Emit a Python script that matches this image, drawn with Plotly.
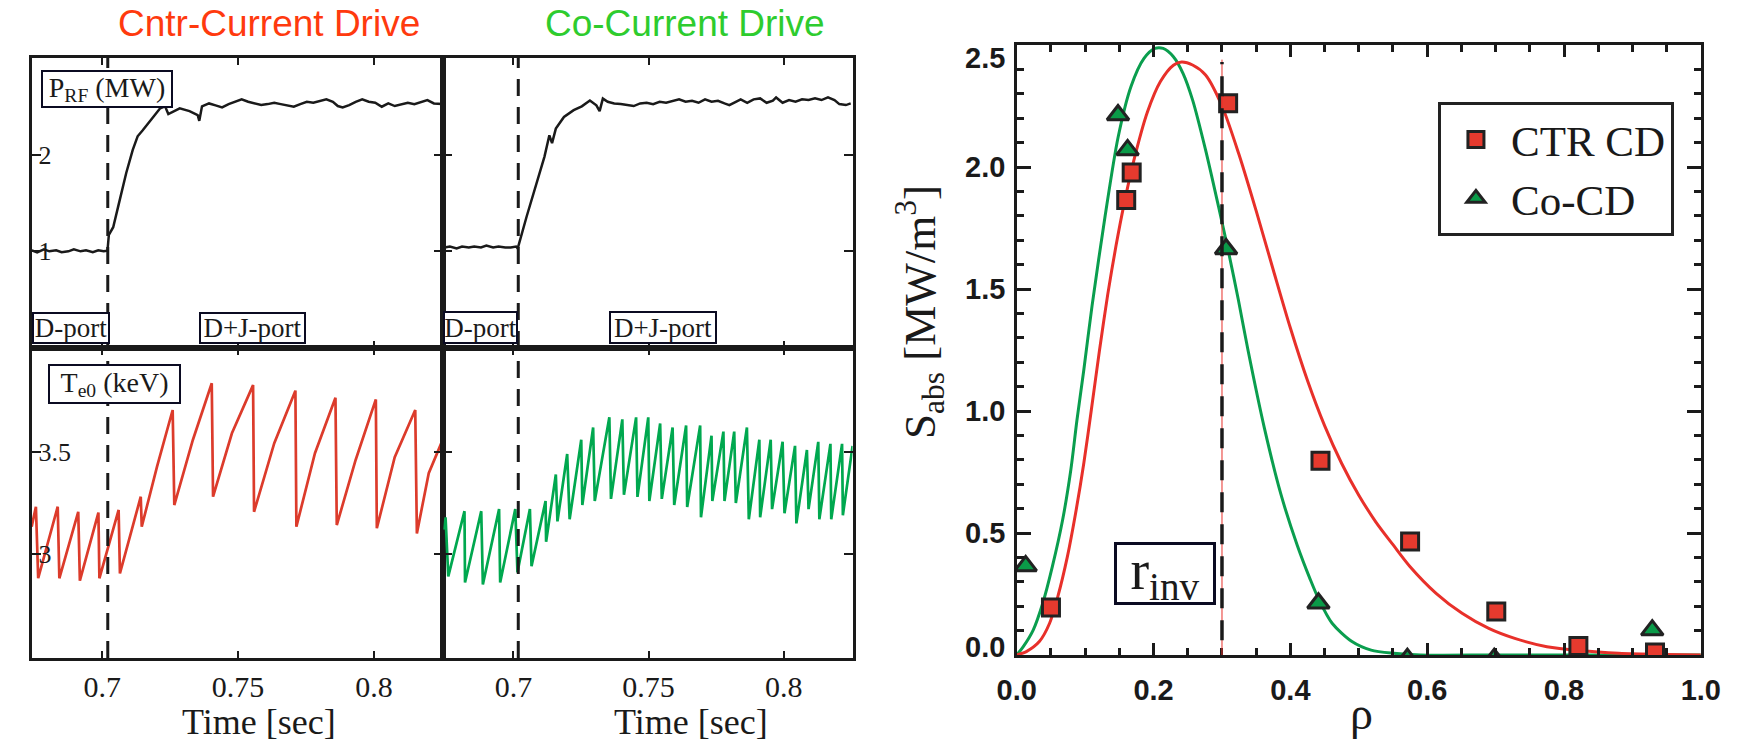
import plotly.graph_objects as go

# ======================= DATA =======================
# --- P_RF (MW) traces ---
prf_ctr_t = [0.6740, 0.6760, 0.6785, 0.6805, 0.6830, 0.6850, 0.6875, 0.6895, 0.6920, 0.6940, 0.6965, 0.6985, 0.7005,
             0.7019, 0.7024, 0.7040, 0.7058, 0.7088, 0.7112, 0.7130, 0.7148, 0.7184, 0.7213, 0.7231, 0.7243, 0.7285,
             0.7321, 0.7351, 0.7357, 0.7367,
             0.7393, 0.7417, 0.7441, 0.7465, 0.7489, 0.7513, 0.7537, 0.7561, 0.7585, 0.7609, 0.7633, 0.7657, 0.7681,
             0.7705, 0.7729, 0.7753, 0.7777, 0.7801, 0.7825, 0.7849, 0.7867, 0.7885, 0.7909, 0.7933, 0.7957, 0.7981,
             0.8005, 0.8029, 0.8053, 0.8077, 0.8101, 0.8125, 0.8149, 0.8173, 0.8197, 0.8221, 0.8251]
prf_ctr_mw = [1.01, 0.99, 1.02, 1.00, 1.01, 0.99, 1.00, 1.02, 1.00, 1.01, 0.99, 1.01, 1.00,
              1.006, 1.17, 1.25, 1.46, 1.81, 2.05, 2.19, 2.25, 2.38, 2.48, 2.50, 2.42, 2.48,
              2.45, 2.41, 2.35, 2.50,
              2.530, 2.510, 2.489, 2.523, 2.547, 2.572, 2.547, 2.530, 2.513, 2.523, 2.537, 2.523, 2.513,
              2.496, 2.523, 2.547, 2.537, 2.558, 2.572, 2.547, 2.503, 2.489, 2.513, 2.547, 2.572, 2.547,
              2.537, 2.496, 2.530, 2.503, 2.523, 2.537, 2.523, 2.547, 2.565, 2.530, 2.523]

prf_co_t = [0.6745, 0.6765, 0.6790, 0.6810, 0.6835, 0.6855, 0.6880, 0.6900, 0.6925, 0.6945, 0.6970, 0.6990, 0.7010,
            0.7016, 0.7049, 0.7085, 0.7115, 0.7133, 0.7143, 0.7157, 0.7187, 0.7223, 0.7253, 0.7283, 0.7307, 0.7319,
            0.7331,
            0.7349, 0.7373, 0.7397, 0.7421, 0.7445, 0.7469, 0.7493, 0.7517, 0.7541, 0.7565, 0.7589, 0.7613, 0.7637,
            0.7661, 0.7685, 0.7709, 0.7733, 0.7757, 0.7781, 0.7799, 0.7823, 0.7841, 0.7865, 0.7889, 0.7913, 0.7937,
            0.7960, 0.7972, 0.7996, 0.8020, 0.8044, 0.8068, 0.8092, 0.8116, 0.8140, 0.8164, 0.8188, 0.8206, 0.8230,
            0.8248]
prf_co_mw = [1.04, 1.05, 1.03, 1.05, 1.04, 1.05, 1.04, 1.06, 1.04, 1.05, 1.04, 1.04, 1.05,
             1.03, 1.36, 1.70, 1.98, 2.20, 2.12, 2.27, 2.39, 2.46, 2.50, 2.56, 2.51, 2.45,
             2.58,
             2.547, 2.530, 2.523, 2.513, 2.503, 2.530, 2.537, 2.523, 2.547, 2.537, 2.558, 2.572, 2.547,
             2.558, 2.537, 2.572, 2.547, 2.558, 2.530, 2.513, 2.547, 2.572, 2.537, 2.572, 2.582, 2.537,
             2.558, 2.592, 2.537, 2.565, 2.547, 2.572, 2.565, 2.582, 2.565, 2.592, 2.565, 2.523, 2.513,
             2.530]

# --- central electron temperature Te0 (keV) ---
te_ctr_t = [0.67398, 0.67554, 0.67638, 0.68357, 0.68417, 0.69113, 0.69173, 0.69856, 0.69892, 0.70600, 0.70648,
            0.71415, 0.71451, 0.72014, 0.72590, 0.72650, 0.73333, 0.74029, 0.74077, 0.74772, 0.75551, 0.75587,
            0.76331, 0.77110, 0.77146, 0.77830, 0.78585, 0.78633, 0.79328, 0.80072, 0.80108, 0.80767, 0.81523,
            0.81583, 0.82020, 0.82506]
te_ctr_kev = [3.134, 3.232, 2.881, 3.232, 2.881, 3.207, 2.869, 3.203, 2.881, 3.216, 2.905,
              3.281, 3.134, 3.428, 3.706, 3.240, 3.559, 3.837, 3.281, 3.592, 3.828, 3.207,
              3.543, 3.801, 3.134, 3.494, 3.766, 3.142, 3.461, 3.758, 3.126, 3.475, 3.706,
              3.101, 3.396, 3.551]

te_co_t = [0.6745, 0.6749, 0.6759, 0.6819, 0.6821, 0.6881, 0.6887, 0.6947, 0.6951, 0.7007, 0.7015, 0.7061, 0.7067,
           0.7119, 0.7121, 0.7157, 0.7163, 0.7199, 0.7208, 0.7251, 0.7255, 0.7295, 0.7301, 0.7355, 0.7361, 0.7403,
           0.7409, 0.7454, 0.7459, 0.7499, 0.7503, 0.7543, 0.7549, 0.7589, 0.7595, 0.7639, 0.7643, 0.7691, 0.7694,
           0.7733, 0.7736, 0.7777, 0.7781, 0.7817, 0.7823, 0.7864, 0.7871, 0.7910, 0.7913, 0.7952, 0.7957, 0.7996,
           0.8003, 0.8042, 0.8047, 0.8086, 0.8092, 0.8128, 0.8132, 0.8173, 0.8176, 0.8216, 0.8219, 0.8255]
te_co_kev = [3.12, 3.18, 2.89, 3.21, 2.86, 3.21, 2.85, 3.22, 2.86, 3.22, 2.91, 3.22, 2.94,
             3.26, 3.06, 3.39, 3.16, 3.49, 3.17, 3.56, 3.24, 3.62, 3.26, 3.67, 3.27, 3.66,
             3.29, 3.67, 3.28, 3.67, 3.26, 3.64, 3.27, 3.62, 3.24, 3.63, 3.23, 3.63, 3.18,
             3.58, 3.26, 3.60, 3.26, 3.60, 3.25, 3.62, 3.17, 3.56, 3.18, 3.56, 3.22, 3.55,
             3.20, 3.53, 3.15, 3.51, 3.22, 3.55, 3.17, 3.54, 3.17, 3.54, 3.19, 3.53]

rf_step_time_ctr = 0.7020
rf_step_time_co = 0.7018

time_ticks = [0.70, 0.75, 0.80]
time_tick_labels = ["0.7", "0.75", "0.8"]
prf_ticks = [1, 2]
prf_tick_labels = ["1", "2"]
te_ticks = [3.0, 3.5]
te_tick_labels = ["3", "3.5"]

# --- absorbed power density profiles ---
rho_fit_ctr = [0.0, 0.014, 0.033, 0.048, 0.060, 0.074, 0.086, 0.098, 0.109, 0.121, 0.133, 0.145, 0.157, 0.171,
               0.191, 0.210, 0.229, 0.241, 0.257, 0.276, 0.300, 0.325, 0.350, 0.375, 0.400, 0.425, 0.450, 0.475,
               0.500, 0.525, 0.550, 0.575, 0.613, 0.651, 0.690, 0.728, 0.775, 0.823, 0.880, 0.947, 1.0]
sabs_fit_ctr = [0.0, 0.014, 0.055, 0.130, 0.239, 0.403, 0.581, 0.786, 1.004, 1.250, 1.478, 1.676, 1.850, 2.025,
                2.225, 2.350, 2.417, 2.430, 2.418, 2.377, 2.250, 2.050, 1.820, 1.578, 1.340, 1.125, 0.940, 0.785,
                0.655, 0.545, 0.452, 0.362, 0.253, 0.171, 0.109, 0.068, 0.034, 0.018, 0.007, 0.002, 0.0]
rho_fit_co = [0.0, 0.0095, 0.024, 0.038, 0.052, 0.067, 0.079, 0.088, 0.098, 0.110, 0.129, 0.148, 0.167, 0.186,
              0.202, 0.214, 0.229, 0.243, 0.257, 0.276, 0.295, 0.310, 0.324, 0.338, 0.362, 0.386, 0.410, 0.429,
              0.442, 0.461, 0.490, 0.518, 0.551, 0.590, 0.70, 0.85, 1.0]
sabs_fit_co = [0.0, 0.034, 0.102, 0.212, 0.362, 0.553, 0.758, 0.963, 1.168, 1.430, 1.796, 2.120, 2.330, 2.445,
               2.486, 2.486, 2.452, 2.384, 2.275, 2.070, 1.837, 1.646, 1.455, 1.250, 0.930, 0.660, 0.450, 0.310,
               0.225, 0.130, 0.055, 0.020, 0.007, 0.0, 0.0, 0.0, 0.0]
rho_ctr = [0.050, 0.160, 0.168, 0.309, 0.444, 0.575, 0.701, 0.821, 0.933]
sabs_ctr = [0.195, 1.865, 1.977, 2.261, 0.796, 0.465, 0.178, 0.037, 0.010]
rho_co = [0.013, 0.148, 0.162, 0.306, 0.441, 0.571, 0.698, 0.929]
sabs_co = [0.365, 2.213, 2.070, 1.664, 0.212, -0.015, -0.015, 0.102]
r_inv = 0.30

rho_ticks = [0.0, 0.2, 0.4, 0.6, 0.8, 1.0]
rho_tick_labels = ["0.0", "0.2", "0.4", "0.6", "0.8", "1.0"]
sabs_ticks = [0.0, 0.5, 1.0, 1.5, 2.0, 2.5]
sabs_tick_labels = ["0.0", "0.5", "1.0", "1.5", "2.0", "2.5"]

# ======================= STYLE =======================
W, H = 1756, 747
SERIF = "Liberation Serif"
SANS = "Liberation Sans"
BLACK = "#1a1a1a"
TE_RED = "#dc3b2b"
TE_GREEN = "#00a84f"
FIT_RED = "#e8302a"
FIT_GREEN = "#0a9e4e"
SQ_RED = "#e63a2e"
TRI_GREEN = "#0a9a48"


def fx(p):
    return p / W


def fy(p):
    return 1 - p / H


fig = go.Figure()

# time traces
fig.add_trace(go.Scatter(x=prf_ctr_t, y=prf_ctr_mw, mode="lines", line=dict(color=BLACK, width=2.5),
                         xaxis="x", yaxis="y", showlegend=False))
fig.add_trace(go.Scatter(x=prf_co_t, y=prf_co_mw, mode="lines", line=dict(color=BLACK, width=2.5),
                         xaxis="x2", yaxis="y2", showlegend=False))
fig.add_trace(go.Scatter(x=te_ctr_t, y=te_ctr_kev, mode="lines", line=dict(color=TE_RED, width=2.7),
                         xaxis="x3", yaxis="y3", showlegend=False))
fig.add_trace(go.Scatter(x=te_co_t, y=te_co_kev, mode="lines", line=dict(color=TE_GREEN, width=2.7),
                         xaxis="x4", yaxis="y4", showlegend=False))

# profile fits
fig.add_trace(go.Scatter(x=rho_fit_co, y=sabs_fit_co, mode="lines",
                         line=dict(color=FIT_GREEN, width=3, shape="spline", smoothing=0.8),
                         xaxis="x5", yaxis="y5", showlegend=False))
fig.add_trace(go.Scatter(x=rho_fit_ctr, y=sabs_fit_ctr, mode="lines",
                         line=dict(color=FIT_RED, width=3, shape="spline", smoothing=0.8),
                         xaxis="x5", yaxis="y5", showlegend=False))
# profile data points
fig.add_trace(go.Scatter(x=rho_ctr, y=sabs_ctr, mode="markers", name="CTR CD",
                         marker=dict(symbol="square", size=17, color=SQ_RED, line=dict(color="#222222", width=3)),
                         xaxis="x5", yaxis="y5"))
fig.add_trace(go.Scatter(x=rho_co, y=sabs_co, mode="markers", name="Co-CD",
                         marker=dict(symbol="triangle-up", size=19, color=TRI_GREEN, line=dict(color="#222222", width=3)),
                         xaxis="x5", yaxis="y5"))

left_dom = [fx(12), fx(433)]
right_dom = [fx(433), fx(852)]
upper_dom = [fy(348), fy(58)]
lower_dom = [fy(658), fy(348)]

time_axis = dict(range=[0.674, 0.8255], tickvals=time_ticks, ticktext=time_tick_labels, ticks="inside",
                 ticklen=7, tickwidth=2, tickcolor=BLACK, showline=True, linewidth=3, linecolor=BLACK,
                 mirror="ticks", showgrid=False, zeroline=False,
                 tickfont=dict(family=SERIF, size=30, color=BLACK))
prf_axis = dict(range=[0, 3], tickvals=prf_ticks, ticktext=prf_tick_labels, ticks="inside", ticklen=9,
                tickwidth=2, tickcolor=BLACK, showline=True, linewidth=3, linecolor=BLACK, mirror="ticks",
                showgrid=False, zeroline=False, tickfont=dict(family=SERIF, size=26, color=BLACK))
te_axis = dict(prf_axis, range=[2.49, 4.01], tickvals=te_ticks, ticktext=te_tick_labels)

layout = dict(
    width=W, height=H, margin=dict(l=0, r=0, t=0, b=0),
    paper_bgcolor="white", plot_bgcolor="white",
    font=dict(family=SERIF, color=BLACK),
    xaxis=dict(time_axis, domain=left_dom, anchor="y", showticklabels=False),
    xaxis2=dict(time_axis, domain=right_dom, anchor="y2", showticklabels=False),
    xaxis3=dict(time_axis, domain=left_dom, anchor="y3", showticklabels=True, ticklabelstandoff=0),
    xaxis4=dict(time_axis, domain=right_dom, anchor="y4", showticklabels=True, ticklabelstandoff=0),
    yaxis=dict(prf_axis, domain=upper_dom, anchor="x", showticklabels=True, ticklabelposition="inside"),
    yaxis2=dict(prf_axis, domain=upper_dom, anchor="x2", showticklabels=False),
    yaxis3=dict(te_axis, domain=lower_dom, anchor="x3", showticklabels=True, ticklabelposition="inside"),
    yaxis4=dict(te_axis, domain=lower_dom, anchor="x4", showticklabels=False),
    xaxis5=dict(domain=[fx(1020), fx(1720)], anchor="y5", range=[0, 1], tickvals=rho_ticks, ticktext=rho_tick_labels,
                ticks="inside", ticklen=12, tickwidth=3, tickcolor=BLACK, showline=True, linewidth=3,
                linecolor=BLACK, mirror="allticks", showgrid=False, zeroline=False,
                minor=dict(dtick=0.05, ticks="inside", ticklen=7, tickwidth=2.5, tickcolor=BLACK, showgrid=False),
                tickfont=dict(family=SANS, size=29, color=BLACK, weight="bold"), ticklabelstandoff=7),
    yaxis5=dict(domain=[fy(655), fy(45)], anchor="x5", range=[0, 2.5], tickvals=sabs_ticks,
                ticks="inside", ticklen=14, tickwidth=3, tickcolor=BLACK, showline=True, linewidth=3,
                linecolor=BLACK, mirror="allticks", showgrid=False, zeroline=False, showticklabels=False,
                minor=dict(dtick=0.1, ticks="inside", ticklen=7, tickwidth=2.5, tickcolor=BLACK, showgrid=False)),
    legend=dict(x=fx(1451), y=fy(102), xanchor="left", yanchor="top", bgcolor="white", bordercolor="#222222",
                borderwidth=3, font=dict(family="Liberation Serif", size=43, color=BLACK), itemwidth=60,
                traceorder="normal", tracegroupgap=0),
)
fig.update_layout(**layout)

shapes = []
for xr, t0 in (("x", rf_step_time_ctr), ("x3", rf_step_time_ctr), ("x2", rf_step_time_co), ("x4", rf_step_time_co)):
    shapes.append(dict(type="line", xref=xr, yref=xr.replace("x", "y") + " domain", x0=t0, x1=t0, y0=0, y1=1,
                       line=dict(color=BLACK, width=3, dash="17px,11px")))
shapes.append(dict(type="line", xref="x5", yref="y5", x0=r_inv, x1=r_inv, y0=0, y1=2.44,
                   line=dict(color=FIT_RED, width=1)))
shapes.append(dict(type="line", xref="x5", yref="y5", x0=r_inv, x1=r_inv, y0=0.06, y1=2.43,
                   line=dict(color=BLACK, width=3.5, dash="20px,12px")))
fig.update_layout(shapes=shapes)

ann = []
# panel titles
ann.append(dict(text="Cntr-Current Drive", x=fx(255), y=fy(24), xref="paper", yref="paper", showarrow=False,
                xanchor="center", yanchor="middle", font=dict(family=SANS, size=37, color="#ff3a0e")))
ann.append(dict(text="Co-Current Drive", x=fx(681), y=fy(24), xref="paper", yref="paper", showarrow=False,
                xanchor="center", yanchor="middle", font=dict(family=SANS, size=37, color="#2ecc2e")))
for cx in (245, 687):
    ann.append(dict(text="Time [sec]", x=fx(cx), y=fy(722), xref="paper", yref="paper", showarrow=False,
                    xanchor="center", yanchor="middle", font=dict(family=SERIF, size=36, color=BLACK)))


def boxed(text, left, top, w, h, size, bw=2):
    return dict(text=text, x=fx(left), y=fy(top), xref="paper", yref="paper", showarrow=False,
                xanchor="left", yanchor="top", width=w, height=h, align="center", valign="middle",
                bgcolor="white", bordercolor="#0b0b22", borderwidth=bw, borderpad=0,
                font=dict(family=SERIF, size=size, color=BLACK))


ann.append(boxed("P<sub>RF</sub> (MW)", 21, 70, 128, 34, 28))
ann.append(boxed("T<sub>e0</sub> (keV)", 29, 364, 129, 36, 28))
ann.append(boxed("D-port", 12, 312, 74, 28, 27))
ann.append(boxed("D+J-port", 183, 312, 103, 28, 27))
ann.append(boxed("D-port", 433, 311, 71, 29, 27))
ann.append(boxed("D+J-port", 603, 311, 104, 29, 27))
ann.append(boxed("r<sub>inv</sub>", 1120, 542, 96, 57, 56, bw=3))

# right-plot y tick labels (end labels nudged inward as in the original)
for v, lab in zip(sabs_ticks, sabs_tick_labels):
    shift = 8 if v == sabs_ticks[0] else (-13 if v == sabs_ticks[-1] else 0)
    ann.append(dict(text=lab, x=fx(1010), y=v, xref="paper", yref="y5", showarrow=False, xanchor="right",
                    yanchor="middle", yshift=shift, font=dict(family=SANS, size=29, color=BLACK, weight="bold")))

ann.append(dict(text="S<sub>abs</sub> [MW/m<sup>3</sup>]", x=fx(920), y=fy(312), xref="paper", yref="paper",
                showarrow=False, textangle=-90, xanchor="center", yanchor="middle",
                font=dict(family=SERIF, size=45, color=BLACK)))
ann.append(dict(text="ρ", x=fx(1373), y=fy(713), xref="paper", yref="paper", showarrow=False,
                xanchor="center", yanchor="middle", font=dict(family=SERIF, size=46, color=BLACK)))
fig.update_layout(annotations=ann)

fig.write_html("out.html")
